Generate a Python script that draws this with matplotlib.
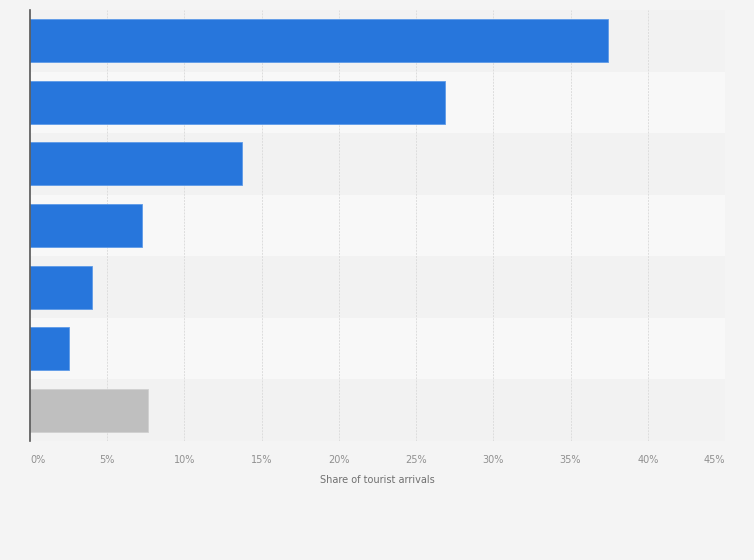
import matplotlib
matplotlib.use("Agg")
import matplotlib.pyplot as plt
from matplotlib.patches import Rectangle

# Data (category labels are not shown in the reference)
categories = ["1", "2", "3", "4", "5", "6", "Other"]
values = [37.4, 26.9, 13.75, 7.25, 4.0, 2.5, 7.65]
colors = ["#2776dc"] * 6 + ["#bfbfbf"]
xticks = [0, 5, 10, 15, 20, 25, 30, 35, 40, 45]
xtick_labels = [f"{t}%" for t in xticks]
xlabel = "Share of tourist arrivals"

fig = plt.figure(figsize=(7.54, 5.6), dpi=100)
fig.patch.set_facecolor("#f4f4f4")
ax = fig.add_axes([30 / 754, (560 - 441) / 560, 695 / 754, 431 / 560])
ax.set_facecolor("#f4f4f4")

n = len(categories)
ax.set_xlim(0, 45)
ax.set_ylim(n - 0.5, -0.5)

# alternating bands
for i in range(n):
    c = "#f2f2f2" if i % 2 == 0 else "#f8f8f8"
    ax.add_patch(Rectangle((0, i - 0.5), 45, 1, facecolor=c, edgecolor="none", zorder=0))

# grid
for t in xticks[1:]:
    ax.axvline(t, color="#dddddd", lw=0.7, ls=(0, (2, 1.2)), zorder=1)

ax.barh(range(n), values, height=0.7, color=colors, edgecolor="#5e9be8",
        linewidth=0.6, zorder=2)
# gray bar edge
ax.patches[-1].set_edgecolor("#d0d0d0")

for s in ["top", "right", "bottom"]:
    ax.spines[s].set_visible(False)
ax.spines["left"].set_color("#555555")
ax.spines["left"].set_linewidth(1.2)
ax.spines["left"].set_zorder(5)

ax.set_yticks([])
ax.set_xticks(xticks)
ax.set_xticklabels(xtick_labels, color="#909090", fontsize=7)
ax.tick_params(axis="x", length=0, pad=10)
lbls = ax.get_xticklabels()
lbls[0].set_ha("left")
lbls[-1].set_ha("right")
ax.set_xlabel(xlabel, color="#707070", fontsize=7, labelpad=7)

fig.savefig("out.png", dpi=100, facecolor=fig.get_facecolor())
